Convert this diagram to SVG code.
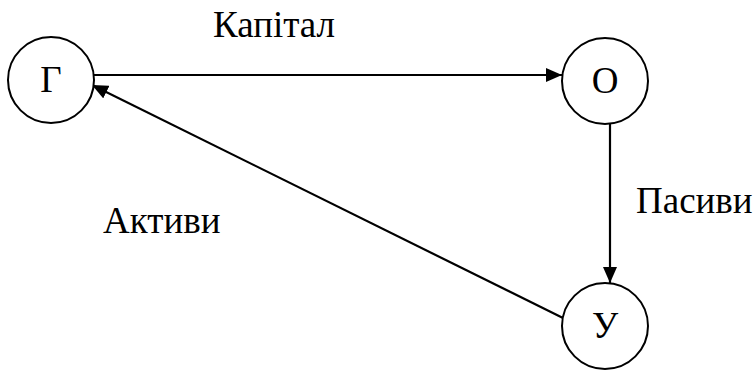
<svg xmlns="http://www.w3.org/2000/svg" width="754" height="371" viewBox="0 0 754 371">
<style>
.node{fill:#fff;stroke:#000;stroke-width:2}
.lbl{font-family:"Liberation Serif","Times New Roman",serif;font-size:37px;fill:#000}
.c{text-anchor:middle}
.edge{stroke:#000;stroke-width:2.2;fill:none}
</style>
<defs>
<marker id="ah" viewBox="0 0 16 14" refX="16" refY="7" markerWidth="16" markerHeight="14" markerUnits="userSpaceOnUse" orient="auto">
<path d="M0,0 L16,7 L0,14 Z" fill="#000"/>
</marker>
</defs>
<g id="connectors">
<line class="edge" x1="94" y1="75" x2="562" y2="75" marker-end="url(#ah)"/>
<line class="edge" x1="610" y1="124" x2="610" y2="283" marker-end="url(#ah)"/>
<line class="edge" x1="563" y1="318" x2="92" y2="85" marker-end="url(#ah)"/>
</g>
<g id="node-G">
<circle class="node" cx="51" cy="80" r="43"/>
<text class="lbl c" x="51" y="92">Г</text>
</g>
<g id="node-O">
<circle class="node" cx="605" cy="81" r="43"/>
<text class="lbl c" x="605" y="93">О</text>
</g>
<g id="node-U">
<circle class="node" cx="605" cy="326" r="43"/>
<text class="lbl c" x="605" y="338">У</text>
</g>
<text class="lbl" x="213" y="37">Капітал</text>
<text class="lbl" x="636" y="213">Пасиви</text>
<text class="lbl" x="103" y="233">Активи</text>
</svg>
